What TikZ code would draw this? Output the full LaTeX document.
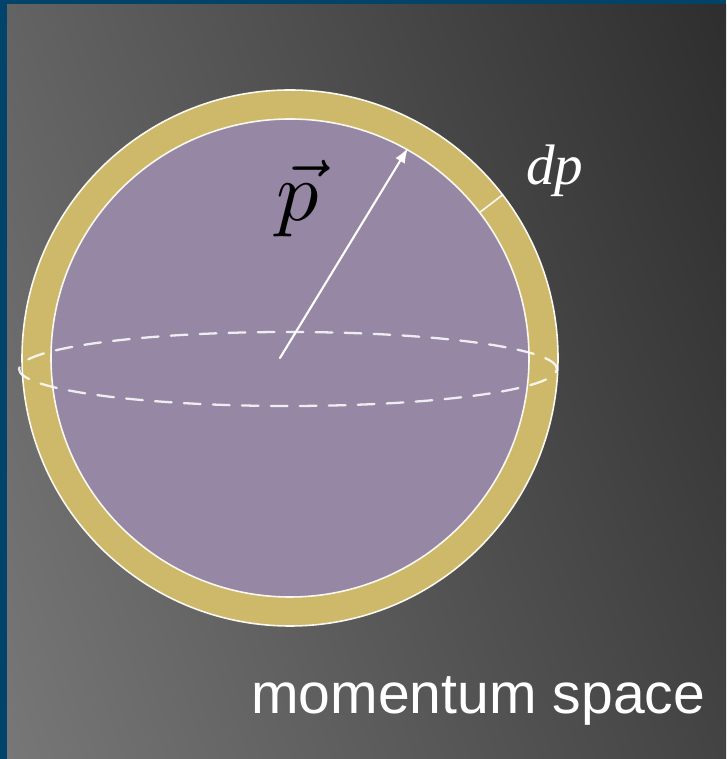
\documentclass[tikz,border=0pt]{standalone}
\usepackage{fontspec}
\setsansfont{Liberation Sans}
\newfontfamily\dpfont{Liberation Serif}
\usetikzlibrary{arrows.meta,calc,shadings}
\definecolor{frameblue}{HTML}{02436B}
\definecolor{ringgold}{HTML}{CDB969}
\definecolor{spherepurple}{HTML}{9688A5}
\definecolor{bgupleft}{HTML}{636363}
\definecolor{bgupright}{HTML}{2E2E2E}
\definecolor{bglowleft}{HTML}{777777}
\definecolor{bglowright}{HTML}{434343}

\begin{document}
\begin{tikzpicture}[x=0.02cm,y=0.02cm,>=Latex,line cap=round,line join=round]
    \useasboundingbox (0,0) rectangle (726,759);
    \fill[frameblue] (0,0) rectangle (726,759);
    \shade[upper left=bgupleft,upper right=bgupright,lower left=bglowleft,lower right=bglowright] (7,0) rectangle (726,754);
    \coordinate (O) at (290,401);
    \filldraw[fill=ringgold,draw=white!90!ringgold,line width=0.9pt] (O) circle (268);
    \filldraw[fill=spherepurple,draw=white!90!ringgold,line width=0.9pt] (O) circle (239);
    \draw[white!90!ringgold,line width=0.9pt] ($(O)+(37.5:239)$)--($(O)+(37.5:268)$);
    \draw[white,opacity=0.85,line width=1.3pt,dash pattern=on 9.5pt off 7pt] (288,390) ellipse (269 and 37);
    \coordinate (base) at (280,401);
    \coordinate (tip) at (408,611);
    \draw[white,line width=1.2pt,-{Latex[length=0.3cm,width=0.22cm]}] (base)--(tip);
    \node (pvec) at (298,560) {\scalebox{4.8}{$\vec{p}$}};
    \node[anchor=base west,inner sep=0pt,white,font=\dpfont\itshape\fontsize{32.5}{38}\selectfont] (dplabel) at (526,574) {dp};
    \node[anchor=base west,inner sep=0pt,white,font=\sffamily\fontsize{32.5}{38}\selectfont] (caption) at (251,45) {momentum space};
\end{tikzpicture}
\end{document}
